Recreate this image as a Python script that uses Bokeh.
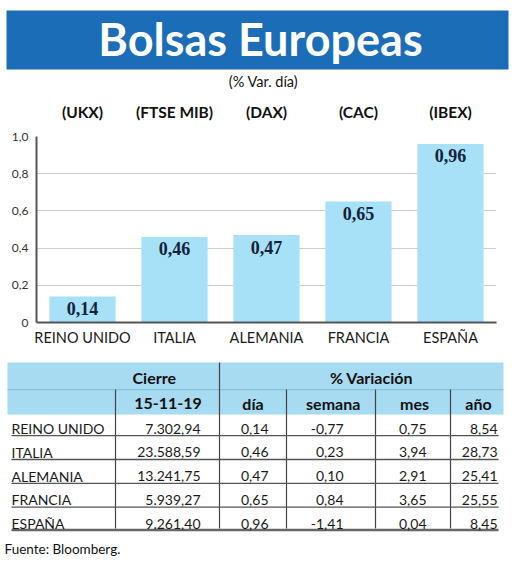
from bokeh.plotting import figure
from bokeh.models import FactorRange, Range1d, FixedTicker, CategoricalAxis
from bokeh.embed import file_html
from bokeh.resources import INLINE
from bokeh.core.properties import value

# ---------------- data ----------------
countries = ["REINO UNIDO", "ITALIA", "ALEMANIA", "FRANCIA", "ESPAÑA"]
tickers = ["(UKX)", "(FTSE MIB)", "(DAX)", "(CAC)", "(IBEX)"]
var_dia = [0.14, 0.46, 0.47, 0.65, 0.96]
cierre = ["7.302,94", "23.588,59", "13.241,75", "5.939,27", "9.261,40"]
semana = [-0.77, 0.23, 0.10, 0.84, -1.41]
mes = [0.75, 3.94, 2.91, 3.65, 0.04]
anio = [8.54, 28.73, 25.41, 25.55, 8.45]
y_ticks = [0, 0.2, 0.4, 0.6, 0.8, 1.0]
y_tick_labels = ["0", "0,2", "0,4", "0,6", "0,8", "1,0"]
title_text = "Bolsas Europeas"
subtitle_text = "(% Var. día)"
source_text = "Fuente: Bloomberg."


def es(v):
    return f"{v:.2f}".replace(".", ",")


W = 520
BANNER = "#1a6db6"
BAR = "#a6e1f7"
HEAD = "#a6dbf1"
SANS = value("Lato")

# ---------------- header figure ----------------
HA = 92
pa = figure(width=W, height=HA, x_range=Range1d(0, W), y_range=Range1d(HA, 0),
            x_axis_location=None, y_axis_location=None, min_border=0,
            toolbar_location=None, output_backend="svg")
pa.grid.visible = False
pa.outline_line_color = None
pa.quad(left=[6], right=[508], top=[10], bottom=[69], fill_color=BANNER, line_color=None)
pa.text(x=[260], y=[38], text=[title_text], text_font=SANS, text_font_style="bold",
        text_font_size="45px", text_color="white", text_align="center",
        text_baseline="middle")
pa.text(x=[263], y=[81], text=[subtitle_text], text_font=SANS, text_font_size="14.5px",
        text_color="#111111", text_align="center", text_baseline="middle")

# ---------------- bar chart ----------------
pb = figure(width=W, height=260, x_range=FactorRange(*countries), y_range=Range1d(0, 1.0),
            min_border_left=36, min_border_right=24, min_border_top=44, min_border_bottom=30,
            toolbar_location=None, output_backend="svg")
pb.outline_line_color = None
pb.xgrid.visible = False
pb.ygrid.ticker = FixedTicker(ticks=y_ticks)
pb.ygrid.grid_line_color = "#cfcfcf"
pb.ygrid.grid_line_width = 1.2
pb.extra_x_ranges = {"tick": FactorRange(*tickers)}

pb.vbar(x=countries, top=var_dia, bottom=0, width=0.72, fill_color=BAR, line_color=None)
pb.text(x=countries, y=var_dia, text=[es(v) for v in var_dia], text_align="center",
        text_baseline="middle", y_offset=12, text_font=value("Liberation Serif"),
        text_font_style="bold", text_font_size="18px", text_color="#16213a")

ya = pb.yaxis[0]
ya.ticker = FixedTicker(ticks=y_ticks)
ya.major_label_overrides = dict(zip(y_ticks, y_tick_labels))
ya.axis_line_color = "#555555"
ya.axis_line_width = 2
ya.major_tick_line_color = None
ya.minor_tick_line_color = None
ya.major_label_standoff = 2
ya.major_label_text_font = "Lato"
ya.major_label_text_font_size = "12px"
ya.major_label_text_color = "#333333"

xa = pb.xaxis[0]
xa.axis_line_color = "#555555"
xa.axis_line_width = 2
xa.major_tick_line_color = None
xa.minor_tick_line_color = None
xa.major_label_standoff = 0
xa.major_label_text_font = "Lato"
xa.major_label_text_font_size = "14.5px"
xa.major_label_text_color = "#1a1a1a"

ta = CategoricalAxis(x_range_name="tick")
ta.axis_line_color = None
ta.major_tick_line_color = None
ta.minor_tick_line_color = None
ta.major_label_standoff = 10
ta.major_label_text_font = "Lato"
ta.major_label_text_font_style = "bold"
ta.major_label_text_font_size = "15.5px"
ta.major_label_text_color = "#111111"
pb.add_layout(ta, "above")

# ---------------- table ----------------
HC = 208
pc = figure(width=W, height=HC, x_range=Range1d(0, W), y_range=Range1d(HC, 0),
            x_axis_location=None, y_axis_location=None, min_border=0,
            toolbar_location=None, output_backend="svg")
pc.grid.visible = False
pc.outline_line_color = None

pc.quad(left=[7, 7], right=[503, 503], top=[10, 37.5], bottom=[37, 62],
        fill_color=HEAD, line_color=None)
pc.segment(x0=[7], x1=[503], y0=[37.2], y1=[37.2], line_color="#7fb4cf", line_width=1)

pc.segment(x0=[219], x1=[219], y0=[10], y1=[176], line_color="#444444", line_width=1.2)
vx = [115, 286, 375, 450]
pc.segment(x0=vx, x1=vx, y0=[37] * 4, y1=[176] * 4, line_color="#444444", line_width=1.2)

row_y = [76 + i * 23.8 for i in range(len(countries))]
line_y = [y + 7.2 for y in row_y[:-1]]
pc.segment(x0=[11] * 4, x1=[498] * 4, y0=line_y, y1=line_y, line_color="#555555", line_width=1.3)
pc.segment(x0=[11], x1=[498], y0=[177.5], y1=[177.5], line_color="#666666", line_width=2.5)

hdr = dict(text_font=SANS, text_font_style="bold", text_font_size="16px",
           text_color="#111111", text_align="center", text_baseline="middle")
pc.text(x=[153.7, 371], y=[25, 25], text=["Cierre", "% Variación"], **hdr)
pc.text(x=[167.5, 252.5, 332.7, 414, 478], y=[50.5] * 5,
        text=["15-11-19", "día", "semana", "mes", "año"], **hdr)

cell = dict(text_font=SANS, text_font_size="14px", text_color="#1a1a1a",
            text_baseline="middle")
pc.text(x=[11] * 5, y=row_y, text=countries, text_align="left", **cell)
pc.text(x=[200] * 5, y=row_y, text=cierre, text_align="right", **cell)
pc.text(x=[268] * 5, y=row_y, text=[es(v) for v in var_dia], text_align="right", **cell)
pc.text(x=[343] * 5, y=row_y, text=[es(v) for v in semana], text_align="right", **cell)
pc.text(x=[426] * 5, y=row_y, text=[es(v) for v in mes], text_align="right", **cell)
pc.text(x=[497] * 5, y=row_y, text=[es(v) for v in anio], text_align="right", **cell)

pc.text(x=[4], y=[196], text=[source_text], text_font=SANS, text_font_size="13.5px",
        text_color="#111111", text_align="left", text_baseline="middle")

open("out.html", "w").write(file_html([pa, pb, pc], INLINE))
